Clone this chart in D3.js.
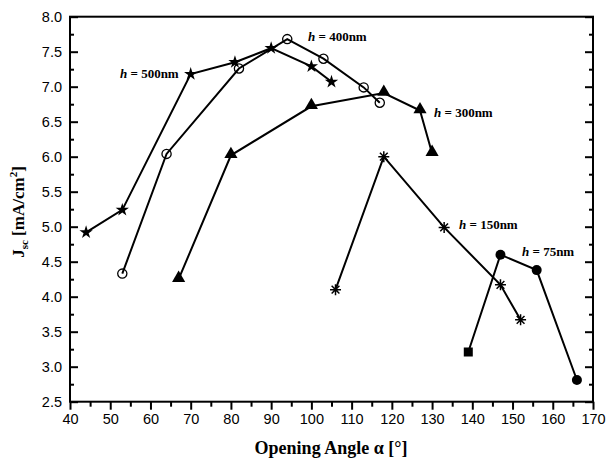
<!DOCTYPE html>
<html>
<head>
<meta charset="utf-8">
<script src="https://cdn.jsdelivr.net/npm/d3@7"></script>
<style>
  body { margin: 0; background: #fff; }
  svg text { fill: #000; }
</style>
</head>
<body>
<svg id="chart" width="607" height="462"></svg>
<script>
// values
let angle500 = [44, 53, 70, 81, 90, 100, 105];
let jsc500   = [4.92, 5.24, 7.18, 7.35, 7.55, 7.29, 7.07];
let angle400 = [53, 64, 82, 94, 103, 113, 117];
let jsc400   = [4.33, 6.04, 7.26, 7.68, 7.40, 6.99, 6.77];
let angle300 = [67, 80, 100, 118, 127, 130];
let jsc300   = [4.25, 6.02, 6.72, 6.91, 6.66, 6.05];
let angle150 = [106, 118, 133, 147, 152];
let jsc150   = [4.10, 6.00, 4.99, 4.17, 3.67];
let angle75  = [139, 147, 156, 166];
let jsc75    = [3.21, 4.60, 4.38, 2.81];

let seriesNames = ['500nm', '400nm', '300nm', '150nm', '75nm'];
let xTicks = d3.range(40, 171, 10);
let yTicks = d3.range(2.5, 8.01, 0.5);

let series = [
  {name: '500nm', x: angle500, y: jsc500, mark: 'star'},
  {name: '400nm', x: angle400, y: jsc400, mark: 'ocircle'},
  {name: '300nm', x: angle300, y: jsc300, mark: 'triangle'},
  {name: '150nm', x: angle150, y: jsc150, mark: 'asterisk'},
  {name: '75nm',  x: angle75,  y: jsc75,  mark: 'fcircle'}
];

let svg = d3.select('#chart');
let plotL = 70, plotR = 593, plotT = 16.7, plotB = 401.7;

let x = d3.scaleLinear().domain([40, 170]).range([plotL, plotR]);
let y = d3.scaleLinear().domain([2.5, 8]).range([plotB, plotT]);

// frame
svg.append('rect')
  .attr('x', plotL).attr('y', plotT)
  .attr('width', plotR - plotL).attr('height', plotB - plotT)
  .attr('fill', 'none').attr('stroke', '#000').attr('stroke-width', 2);

let tickFont = '"Liberation Sans", Arial, sans-serif';

// bottom axis, ticks outward
svg.append('g').attr('transform', `translate(0,${plotB})`)
  .call(d3.axisBottom(x).tickValues(xTicks).tickSize(8).tickPadding(4).tickFormat(d3.format('d')));
svg.append('g').attr('transform', `translate(0,${plotB})`)
  .call(d3.axisBottom(x).tickValues(d3.range(45, 170, 10)).tickSize(5).tickFormat(''));

// left axis, ticks inward
svg.append('g').attr('transform', `translate(${plotL},0)`)
  .call(d3.axisLeft(y).tickValues(yTicks).tickSize(-8).tickPadding(8).tickFormat(d3.format('.1f')));
svg.append('g').attr('transform', `translate(${plotL},0)`)
  .call(d3.axisLeft(y).tickValues(d3.range(2.75, 8, 0.5)).tickSize(-4).tickFormat(''));

// right axis, ticks inward, no labels
svg.append('g').attr('transform', `translate(${plotR},0)`)
  .call(d3.axisRight(y).tickValues(yTicks).tickSize(-8).tickFormat(''));
svg.append('g').attr('transform', `translate(${plotR},0)`)
  .call(d3.axisRight(y).tickValues(d3.range(2.75, 8, 0.5)).tickSize(-4).tickFormat(''));

svg.selectAll('.domain').remove();
svg.selectAll('.tick line').attr('stroke', '#000').attr('stroke-width', 2);
svg.selectAll('.tick text')
  .style('font-family', tickFont).style('font-size', '14.5px').attr('fill', '#000');

// lines
let line = d3.line().x(d => x(d[0])).y(d => y(d[1]));
series.forEach(s => {
  let pts = s.x.map((v, i) => [v, s.y[i]]);
  svg.append('path').datum(pts)
    .attr('d', line)
    .attr('fill', 'none').attr('stroke', '#000').attr('stroke-width', 2);
});

// markers
function asterisk(r) {
  let p = '';
  [0, 45, 90, 135].forEach(a => {
    let rad = a * Math.PI / 180;
    let dx = r * Math.cos(rad), dy = r * Math.sin(rad);
    p += `M${-dx},${-dy}L${dx},${dy}`;
  });
  return p;
}
series.forEach(s => {
  s.x.forEach((v, i) => {
    let cx = x(v), cy = y(s.y[i]);
    let g = svg.append('g').attr('transform', `translate(${cx},${cy})`);
    let mark = s.mark;
    if (s.name == '75nm' && i == 0) mark = 'square';
    if (mark == 'star') {
      g.append('path').attr('d', d3.symbol(d3.symbolStar, 55)()).attr('fill', '#000');
    } else if (mark == 'ocircle') {
      g.append('circle').attr('r', 4.6).attr('fill', 'none').attr('stroke', '#000').attr('stroke-width', 1.3);
    } else if (mark == 'triangle') {
      g.append('path').attr('d', d3.symbol(d3.symbolTriangle, 75)()).attr('fill', '#000')
        .attr('transform', 'translate(0,-1)');
    } else if (mark == 'asterisk') {
      g.append('path').attr('d', asterisk(5.5)).attr('stroke', '#000').attr('stroke-width', 1.5).attr('fill', 'none');
    } else if (mark == 'fcircle') {
      g.append('circle').attr('r', 5).attr('fill', '#000');
    } else if (mark == 'square') {
      g.append('rect').attr('x', -4.5).attr('y', -4.5).attr('width', 9).attr('height', 9).attr('fill', '#000');
    }
  });
});

// series labels
let serif = '"Liberation Serif", "Times New Roman", serif';
let labelPos = {
  '500nm': [120, 78],
  '400nm': [308, 41],
  '300nm': [434, 117],
  '150nm': [459, 229],
  '75nm':  [522, 256]
};
seriesNames.forEach(n => {
  let t = svg.append('text')
    .attr('x', labelPos[n][0]).attr('y', labelPos[n][1])
    .style('font-family', serif).style('font-size', '13px').style('font-weight', 'bold');
  t.append('tspan').style('font-style', 'italic').text('h');
  t.append('tspan').text(' = ' + n);
});

// axis titles
svg.append('text')
  .attr('x', 331).attr('y', 454)
  .attr('text-anchor', 'middle')
  .style('font-family', serif).style('font-size', '18px').style('font-weight', 'bold')
  .text('Opening Angle α [°]');

let yt = svg.append('text')
  .attr('transform', 'translate(24,212) rotate(-90)')
  .attr('text-anchor', 'middle')
  .style('font-family', serif).style('font-size', '17px').style('font-weight', 'bold');
yt.append('tspan').text('J');
yt.append('tspan').attr('dy', 4).style('font-size', '11px').text('sc');
yt.append('tspan').attr('dy', -4).text(' [mA/cm');
yt.append('tspan').attr('dy', -7).style('font-size', '11px').text('2');
yt.append('tspan').attr('dy', 7).text(']');
</script>
</body>
</html>
